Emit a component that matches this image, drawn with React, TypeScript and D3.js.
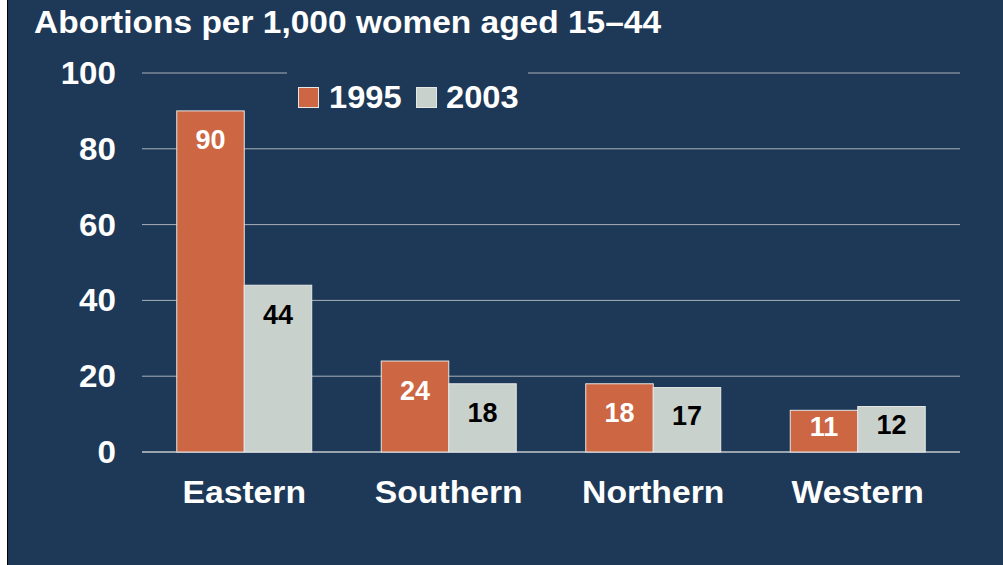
import React from "react";
import * as d3 from "d3";

const categories = ["Eastern", "Southern", "Northern", "Western"];
const seriesNames = ["1995", "2003"];
const values1995 = [90, 24, 18, 11];
const values2003 = [44, 18, 17, 12];
const yTicks = [0, 20, 40, 60, 80, 100];
const title = "Abortions per 1,000 women aged 15–44";

const W = 1003;
const H = 565;
const BG = "#1e3957";
const ORANGE = "#cd6642";
const GREY = "#c9d1cc";
const FONT = "'Liberation Sans', Arial, Helvetica, sans-serif";
const SX = 1.07;

export default function App() {
  const x0 = d3.scaleBand<string>().domain(categories).range([142, 960]).paddingInner(0).paddingOuter(0);
  const bw = x0.bandwidth();
  const x1 = d3.scaleBand<string>().domain(seriesNames).range([bw * 0.17, bw * 0.83]).paddingInner(0);
  const y = d3.scaleLinear().domain([0, 100]).range([452, 73]);
  const series = [
    { name: seriesNames[0], values: values1995, fill: ORANGE, labelColor: "#ffffff" },
    { name: seriesNames[1], values: values2003, fill: GREY, labelColor: "#000000" },
  ];

  const stretched = (x: number, yy: number, txt: string, size: number, anchor: string, fill = "#ffffff", key?: string) => (
    <text
      key={key}
      transform={`translate(${x},${yy}) scale(${SX},1)`}
      fontFamily={FONT}
      fontWeight="bold"
      fontSize={size}
      fill={fill}
      textAnchor={anchor}
    >
      {txt}
    </text>
  );

  return (
    <svg
      width={W}
      height={H}
      style={{ position: "absolute", left: 0, top: 0, display: "block" }}
    >
      <rect x={0} y={0} width={W} height={H} fill="#ffffff" />
      <rect x={7} y={0} width={W - 7} height={H} fill={BG} />
      <line x1={7.5} x2={7.5} y1={0} y2={H} stroke="#000000" strokeWidth={1} />

      {stretched(34, 33, title, 31.3, "start", "#ffffff", "title")}

      {yTicks.map((t) => (
        <g key={"g" + t}>
          {t === 100 ? (
            <>
              <line x1={142} x2={287} y1={y(t)} y2={y(t)} stroke="#a9b1ba" strokeWidth={1} />
              <line x1={528} x2={960} y1={y(t)} y2={y(t)} stroke="#a9b1ba" strokeWidth={1} />
            </>
          ) : (
            <line
              x1={142}
              x2={960}
              y1={y(t)}
              y2={y(t)}
              stroke={t === 0 ? "#c3c8cd" : "#a9b1ba"}
              strokeWidth={t === 0 ? 1.5 : 1}
            />
          )}
          {stretched(116, y(t) + 11, String(t), 31, "end", "#ffffff", "t" + t)}
        </g>
      ))}

      {categories.map((c, i) => (
        <g key={c} transform={`translate(${x0(c)},0)`}>
          {series.map((s) => {
            const v = s.values[i];
            const top = y(v);
            const bx = x1(s.name) as number;
            const w = x1.bandwidth();
            const center = Math.min(top + 28.5, (top + y(0)) / 2 - 5);
            return (
              <g key={s.name}>
                <rect x={bx} y={top} width={w} height={y(0) - top} fill={s.fill} stroke="#e6e6e6" strokeWidth={1} />
                <text
                  x={bx + w / 2}
                  y={center + 10}
                  textAnchor="middle"
                  fontFamily={FONT}
                  fontWeight="bold"
                  fontSize={27}
                  fill={s.labelColor}
                >
                  {v}
                </text>
              </g>
            );
          })}
          {stretched(bw / 2, 503, c, 31.5, "middle", "#ffffff")}
        </g>
      ))}

      <g>
        <rect x={298.5} y={87.5} width={20} height={20} fill={ORANGE} stroke="#e6e6e6" strokeWidth={1} />
        {stretched(329, 108, seriesNames[0], 30.5, "start", "#ffffff")}
        <rect x={416.5} y={87.5} width={20} height={20} fill={GREY} stroke="#e6e6e6" strokeWidth={1} />
        {stretched(446, 108, seriesNames[1], 30.5, "start", "#ffffff")}
      </g>
    </svg>
  );
}
